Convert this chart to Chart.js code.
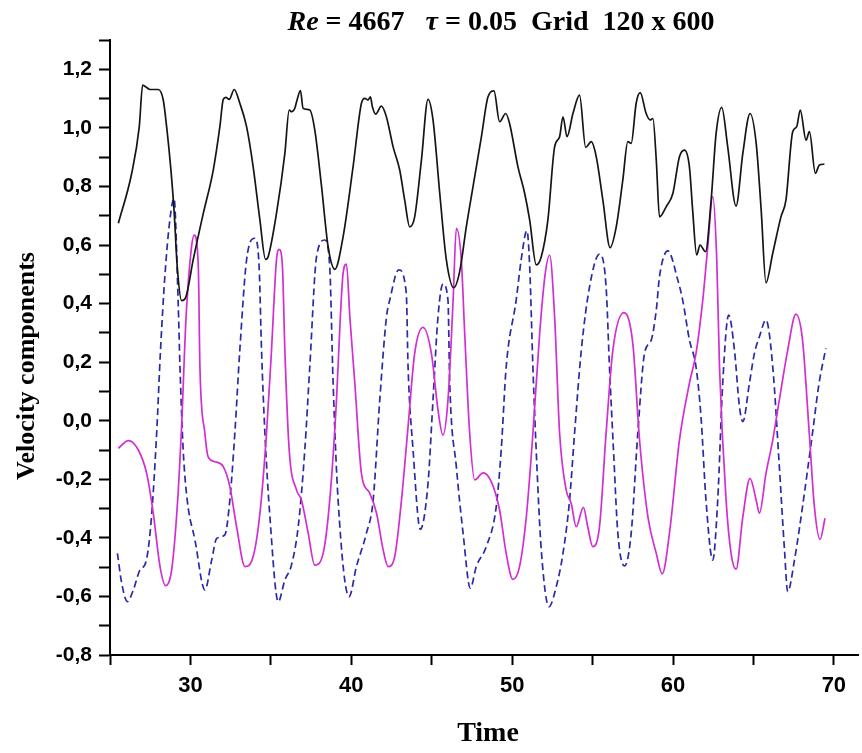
<!DOCTYPE html>
<html>
<head>
<meta charset="utf-8">
<script src="https://cdn.jsdelivr.net/npm/chart.js@4/dist/chart.umd.min.js"></script>
<style>
  html, body { margin: 0; padding: 0; background: #fff; }
  #wrap { position: relative; width: 862px; height: 753px; }
</style>
</head>
<body>
<div id="wrap"><canvas id="c" width="862" height="753"></canvas></div>
<script>
// ---- Data ----
// Black solid curve
const blackTime = [25.52,26.35,26.82,27.03,27.27,27.48,28.0,28.31,28.52,28.77,28.98,29.18,29.45,29.72,30.17,30.8,31.42,31.83,32.04,32.2,32.41,32.72,33.07,33.49,33.9,34.32,34.67,34.83,35.35,35.87,36.14,36.28,36.49,36.6,36.84,37.0,37.42,37.73,38.15,38.56,38.98,39.49,40.11,40.63,40.84,41.04,41.19,41.31,41.52,41.87,42.18,42.6,43.01,43.32,43.63,43.94,44.36,44.77,45.08,45.5,45.91,46.37,46.74,47.15,47.57,48.09,48.5,48.87,49.22,49.6,49.84,50.36,50.78,51.09,51.5,51.81,52.22,52.64,52.95,53.16,53.41,53.78,54.19,54.57,54.92,55.23,55.64,56.09,56.47,56.88,57.19,57.4,57.71,57.96,58.33,58.58,58.75,58.96,59.16,59.58,59.99,60.4,60.71,61.02,61.22,61.47,61.68,62.02,62.37,62.68,63.03,63.4,63.92,64.34,64.79,65.17,65.48,65.78,66.2,66.71,67.02,67.44,67.69,67.91,68.27,68.48,68.85,69.1,69.41];
const blackVals = [0.674,0.845,1.004,1.146,1.138,1.131,1.131,1.095,1.004,0.867,0.72,0.526,0.41,0.423,0.549,0.708,0.856,1.004,1.097,1.104,1.097,1.131,1.084,1.004,0.867,0.685,0.551,0.56,0.708,0.913,1.061,1.055,1.067,1.089,1.127,1.067,1.061,0.993,0.8,0.594,0.517,0.628,0.867,1.084,1.101,1.095,1.106,1.072,1.047,1.074,1.038,0.935,0.856,0.753,0.662,0.696,0.89,1.097,1.027,0.776,0.549,0.454,0.51,0.662,0.8,0.97,1.106,1.126,1.021,1.049,1.015,0.867,0.776,0.685,0.532,0.56,0.685,0.935,0.97,1.038,0.97,1.049,1.112,0.933,0.953,0.901,0.753,0.591,0.662,0.822,0.953,0.947,1.084,1.12,1.049,1.027,1.032,0.89,0.696,0.731,0.776,0.901,0.924,0.867,0.72,0.566,0.6,0.577,0.753,0.981,1.07,0.935,0.733,0.913,1.049,0.947,0.72,0.471,0.572,0.696,0.753,0.987,1.004,1.061,0.958,0.987,0.845,0.873,0.876];

// Magenta solid curve
const magentaTime = [25.52,26.14,26.76,27.28,27.69,28.11,28.46,28.83,29.18,29.45,29.72,30.07,30.24,30.49,30.59,30.9,31.1,31.52,32.04,32.45,32.87,33.39,33.9,34.32,34.73,35.04,35.35,35.52,35.72,35.87,36.14,36.6,36.9,37.32,37.73,38.25,38.66,39.08,39.32,39.49,39.7,39.91,40.22,40.63,41.15,41.57,41.98,42.29,42.7,43.12,43.53,43.94,44.46,44.98,45.39,45.7,46.01,46.33,46.53,46.84,47.05,47.36,47.67,48.19,48.7,49.22,49.63,50.04,50.46,50.88,51.29,51.71,52.05,52.33,52.64,52.95,53.36,53.67,53.98,54.43,54.7,55.01,55.43,55.84,56.26,56.95,57.5,57.92,58.44,58.96,59.33,59.78,60.4,61.02,61.43,61.85,62.16,62.47,62.72,62.89,63.3,63.61,63.92,64.34,64.79,65.17,65.37,65.78,66.2,66.61,67.13,67.64,68.05,68.47,68.79,69.14,69.45];
const magentaVals = [-0.094,-0.068,-0.1,-0.18,-0.316,-0.498,-0.563,-0.51,-0.294,-0.02,0.344,0.594,0.634,0.526,0.184,-0.043,-0.123,-0.14,-0.157,-0.225,-0.362,-0.498,-0.464,-0.316,-0.043,0.241,0.549,0.585,0.526,0.241,-0.1,-0.237,-0.271,-0.384,-0.493,-0.453,-0.271,0.071,0.355,0.503,0.535,0.355,0.128,-0.18,-0.248,-0.316,-0.441,-0.498,-0.464,-0.271,-0.02,0.23,0.319,0.23,0.037,-0.049,0.071,0.412,0.657,0.549,0.298,-0.043,-0.202,-0.178,-0.208,-0.305,-0.453,-0.542,-0.498,-0.328,-0.043,0.298,0.5,0.565,0.355,-0.043,-0.237,-0.282,-0.362,-0.296,-0.362,-0.43,-0.362,-0.043,0.241,0.369,0.264,-0.066,-0.328,-0.453,-0.523,-0.384,-0.066,0.128,0.23,0.412,0.594,0.765,0.549,0.184,-0.271,-0.453,-0.507,-0.328,-0.197,-0.271,-0.316,-0.18,-0.066,0.071,0.241,0.364,0.276,-0.043,-0.294,-0.405,-0.333];

// Blue dashed curve
const blueTime = [25.46,25.73,26.08,26.45,26.86,27.24,27.58,27.9,28.14,28.42,28.73,28.98,29.24,29.35,29.55,29.8,30.28,30.9,31.32,31.63,32.14,32.45,32.76,33.07,33.49,34.0,34.27,34.42,34.63,34.94,35.46,35.87,36.28,36.7,37.11,37.42,37.84,38.35,38.66,38.87,39.18,39.86,40.32,40.94,41.36,41.77,42.19,42.39,42.95,43.42,43.53,43.84,44.29,44.77,45.08,45.39,45.7,46.01,46.12,46.53,46.95,47.4,47.77,48.39,49.01,49.32,49.63,50.25,50.56,50.92,51.09,51.29,51.54,51.81,52.29,52.74,53.16,53.57,53.88,54.3,54.81,55.43,55.84,56.05,56.3,56.57,56.99,57.4,57.81,58.23,58.65,58.96,59.16,59.68,60.3,60.6,61.02,61.43,61.74,62.05,62.47,62.78,63.09,63.46,63.82,64.13,64.34,64.75,65.06,65.37,65.78,66.2,66.61,66.93,67.13,67.55,68.05,68.67,69.08,69.5];
const blueVals = [-0.453,-0.555,-0.618,-0.578,-0.51,-0.481,-0.328,-0.043,0.241,0.5,0.69,0.759,0.4,0.184,-0.1,-0.271,-0.407,-0.578,-0.476,-0.402,-0.39,-0.271,-0.043,0.241,0.549,0.623,0.526,0.241,-0.043,-0.328,-0.618,-0.544,-0.493,-0.362,-0.1,0.184,0.56,0.617,0.526,0.128,-0.271,-0.601,-0.498,-0.384,-0.271,0.071,0.355,0.412,0.515,0.435,0.184,-0.1,-0.371,-0.214,0.071,0.355,0.467,0.412,0.128,-0.157,-0.384,-0.572,-0.498,-0.43,-0.294,-0.1,0.184,0.412,0.549,0.649,0.526,0.184,-0.157,-0.441,-0.635,-0.567,-0.453,-0.271,-0.043,0.241,0.457,0.569,0.457,0.184,-0.1,-0.384,-0.496,-0.384,-0.043,0.23,0.276,0.378,0.492,0.58,0.48,0.412,0.276,0.184,0.014,-0.271,-0.476,-0.271,0.128,0.361,0.241,0.048,-0.003,0.128,0.23,0.287,0.344,0.184,-0.157,-0.441,-0.584,-0.476,-0.294,-0.043,0.128,0.247];

// Axis ranges / tick spacing
const xRange = [25, 71.5];
const yRange = [-0.8, 1.3];
const xStep = 5;
const yStep = 0.1;

function pairs(t, v) { return t.map((x, i) => ({ x: x, y: v[i] })); }

const textPlugin = {
  id: 'texts',
  afterDraw(chart) {
    const ctx = chart.ctx;
    ctx.save();
    ctx.fillStyle = '#000';
    ctx.textBaseline = 'middle';
    // Title with mixed italic parts
    const parts = [
      { t: 'Re', f: 'italic bold 28px "Liberation Serif"' },
      { t: ' = 4667   ', f: 'bold 28px "Liberation Serif"' },
      { t: '\u03C4', f: 'italic bold 28px "Liberation Serif"' },
      { t: ' = 0.05  Grid  120 x 600', f: 'bold 28px "Liberation Serif"' }
    ];
    let total = 0;
    parts.forEach(p => { ctx.font = p.f; p.w = ctx.measureText(p.t).width; total += p.w; });
    let x = 501 - total / 2;
    ctx.textAlign = 'left';
    parts.forEach(p => { ctx.font = p.f; ctx.fillText(p.t, x, 23); x += p.w; });
    // X axis title
    ctx.textAlign = 'center';
    ctx.font = 'bold 28px "Liberation Serif"';
    ctx.fillText('Time', 488, 734);
    // Y axis title
    ctx.translate(27, 366);
    ctx.rotate(-Math.PI / 2);
    ctx.font = 'bold 26px "Liberation Serif"';
    ctx.fillText('Velocity components', 0, 0);
    ctx.restore();
  }
};

new Chart(document.getElementById('c'), {
  type: 'line',
  data: {
    datasets: [
      { label: 'black', data: pairs(blackTime, blackVals), borderColor: '#151515', borderWidth: 1.7,
        pointRadius: 0, cubicInterpolationMode: 'monotone', fill: false },
      { label: 'magenta', data: pairs(magentaTime, magentaVals), borderColor: '#d22ed2', borderWidth: 1.7,
        pointRadius: 0, cubicInterpolationMode: 'monotone', fill: false },
      { label: 'blue', data: pairs(blueTime, blueVals), borderColor: '#2a2aa8', borderWidth: 1.7,
        borderDash: [7, 4], pointRadius: 0, cubicInterpolationMode: 'monotone', fill: false }
    ]
  },
  options: {
    responsive: false,
    animation: false,
    layout: { padding: { top: 40, right: 4, left: 0, bottom: 0 } },
    plugins: { legend: { display: false }, title: { display: false }, tooltip: { enabled: false } },
    scales: {
      x: {
        type: 'linear', min: xRange[0], max: xRange[1],
        afterFit(s) { s.height = 98; },
        border: { display: true, color: '#000', width: 2 },
        grid: { display: true, drawOnChartArea: false, drawTicks: true, tickLength: 10, color: '#000', tickWidth: 2 },
        ticks: {
          stepSize: xStep, includeBounds: false, autoSkip: false, maxRotation: 0, padding: 8,
          color: '#000', font: { family: '"Liberation Sans"', weight: 'bold', size: 22 },
          callback: (v) => (Math.round(v) % 10 === 0 ? String(Math.round(v)) : '')
        }
      },
      y: {
        type: 'linear', min: yRange[0], max: yRange[1],
        afterFit(s) { s.width = 110; },
        border: { display: true, color: '#000', width: 2 },
        grid: { display: true, drawOnChartArea: false, drawTicks: true, tickLength: 11, color: '#000', tickWidth: 2 },
        ticks: {
          stepSize: yStep, includeBounds: false, autoSkip: false, padding: 7,
          color: '#000', font: { family: '"Liberation Sans"', weight: 'bold', size: 21 },
          callback: (v) => {
            const r = Math.round(v * 10);
            if (r % 2 !== 0) return '';
            return (r / 10).toFixed(1).replace('.', ',');
          }
        }
      }
    }
  },
  plugins: [textPlugin]
});
</script>
</body>
</html>
